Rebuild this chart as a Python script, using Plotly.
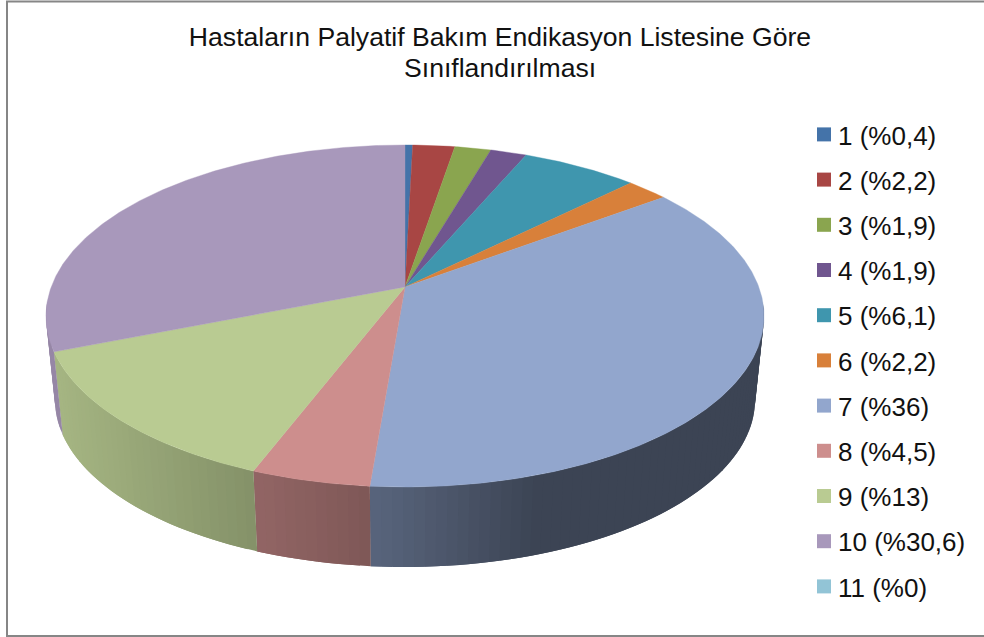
import numpy as np
import plotly.graph_objects as go

# Share of patients per palliative-care indication group
groups = ["1", "2", "3", "4", "5", "6", "7", "8", "9", "10", "11"]
shares = [0.4, 2.2, 1.9, 1.9, 6.1, 2.2, 36, 4.5, 13, 30.6, 0]
share_labels = ["0,4", "2,2", "1,9", "1,9", "6,1", "2,2", "36", "4,5", "13", "30,6", "0"]
colors = ["#4473a9", "#a84644", "#8aa54f", "#70568f", "#3f96ae", "#d8803a",
          "#92a6cd", "#cd8e8d", "#b9cb92", "#a898bb", "#92c4d6"]

TITLE_LINES = ["Hastaların Palyatif Bakım Endikasyon Listesine Göre", "Sınıflandırılması"]

# Geometry of the tilted disc, in page pixels
CX = 405.0
TOP_CY, TOP_RX, TOP_RY = 316.0, 359.0, 171.0
BOT_CY, BOT_RX, BOT_RY = 400.0, 350.0, 167.0
APEX_OFFSET = -0.17  # how far perspective lifts the disc centre, relative to ry


def rim(theta_deg, cy, rx, ry):
    """Project a clockwise-from-top angle on the unit circle onto a perspective ellipse."""
    t = np.radians(theta_deg)
    u, v = np.sin(t), -np.cos(t)
    w = 1 + APEX_OFFSET * v
    x = CX + rx * np.sqrt(1 - APEX_OFFSET ** 2) * u / w
    y = cy + ry * (v + APEX_OFFSET) / w
    return x, y


def shade(x):
    """Brightness of the side wall, falling off to the right."""
    return np.interp(x, [60, 245, 358, 530], [0.89, 0.72, 0.62, 0.41])


def darken(hex_color, f):
    r, g, b = (int(hex_color[i:i + 2], 16) for i in (1, 3, 5))
    return f"rgb({r * f:.0f},{g * f:.0f},{b * f:.0f})"


edges = np.concatenate([[0], np.cumsum(shares)]) / sum(shares) * 360
fig = go.Figure()

# Side wall: shaded strips along the front of the rim, each overlapping the next
# one so that no seams show between them
WALL_FROM, WALL_TO = 95.0, 265.0
for i, color in enumerate(colors):
    a0, a1 = max(edges[i], WALL_FROM), min(edges[i + 1], WALL_TO)
    if a1 <= a0:
        continue
    steps = np.linspace(a0, a1, max(2, int((a1 - a0) / 1.5) + 2))
    for k in range(len(steps) - 1):
        s0, s1 = steps[k], steps[min(k + 2, len(steps) - 1)]
        xt, yt = rim(np.array([s0, s1]), TOP_CY, TOP_RX, TOP_RY)
        xb, yb = rim(np.array([s1, s0]), BOT_CY, BOT_RX, BOT_RY)
        fill = darken(color, shade((xt.mean() + xb.mean()) / 2))
        fig.add_trace(go.Scatter(
            x=[*xt, *xb, xt[0]], y=[*yt, *yb, yt[0]], mode="lines", fill="toself",
            fillcolor=fill, line=dict(width=0),
            showlegend=False, hoverinfo="skip"))

# Top face of each slice
apex_x, apex_y = CX, TOP_CY + TOP_RY * APEX_OFFSET
for i, color in enumerate(colors):
    if edges[i + 1] <= edges[i]:
        continue
    angles = np.linspace(edges[i], edges[i + 1], max(3, int(edges[i + 1] - edges[i]) * 2 + 2))
    xs, ys = rim(angles, TOP_CY, TOP_RX, TOP_RY)
    fig.add_trace(go.Scatter(
        x=[apex_x, *xs, apex_x], y=[apex_y, *ys, apex_y], mode="lines", fill="toself",
        fillcolor=color, line=dict(color=color, width=0.4),
        showlegend=False, hoverinfo="skip"))

# Legend entries
for g, lab, color in zip(groups, share_labels, colors):
    fig.add_trace(go.Scatter(
        x=[None], y=[None], mode="markers", name=f"{g} (%{lab})", legendgroup=g,
        marker=dict(symbol="square", size=14, color=color)))

TEXT = "#111111"
fig.update_layout(
    width=984, height=637, margin=dict(l=0, r=0, t=0, b=0),
    paper_bgcolor="white", plot_bgcolor="white",
    font=dict(family="Liberation Sans", color=TEXT),
    title=dict(text=TITLE_LINES[0], x=500 / 984, xanchor="center", y=1 - 37 / 637, yanchor="middle",
               font=dict(size=26.6, family="Liberation Sans", color=TEXT)),
    annotations=[dict(text=TITLE_LINES[1], xref="paper", yref="paper", x=500 / 984,
                      y=1 - 68 / 637, xanchor="center", yanchor="middle", showarrow=False,
                      font=dict(size=26.6, family="Liberation Sans", color=TEXT))],
    xaxis=dict(range=[0, 984], visible=False, fixedrange=True),
    yaxis=dict(range=[637, 0], visible=False, fixedrange=True),
    legend=dict(x=804 / 984, xanchor="left", y=1 - 111 / 637, yanchor="top",
                font=dict(size=26), tracegroupgap=8.4, itemsizing="trace",
                bgcolor="rgba(0,0,0,0)"),
    shapes=[dict(type="rect", xref="x", yref="y", x0=7, y0=1.5, x1=1000, y1=636,
                 line=dict(color="#868686", width=2), layer="below")],
)

# Pull the legend labels closer to their swatches
tighten_legend = """
document.querySelectorAll('.legendtext').forEach(function (t) {
  t.setAttribute('x', parseFloat(t.getAttribute('x')) - 6);
});
"""
fig.write_html("out.html", post_script=tighten_legend)
